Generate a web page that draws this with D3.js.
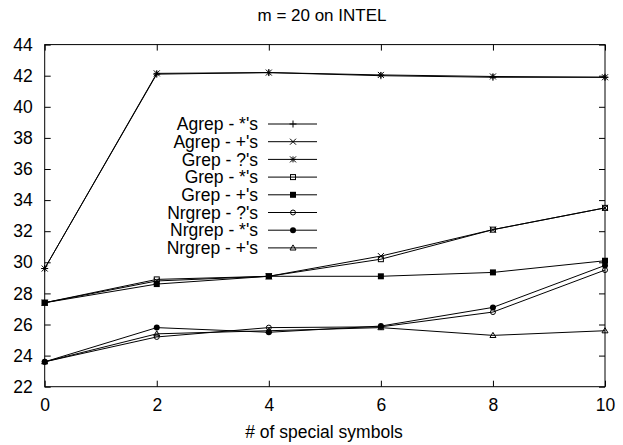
<!DOCTYPE html>
<html>
<head>
<meta charset="utf-8">
<script src="https://cdn.jsdelivr.net/npm/d3@7"></script>
<style>
body { margin: 0; background: #fff; }
text { font-family: "Liberation Sans", Arial, sans-serif; fill: #000; }
</style>
</head>
<body>
<div id="chart"></div>
<script>
// data
var xValues = [0, 2, 4, 6, 8, 10];
var seriesNames = ["Agrep - *'s", "Agrep - +'s", "Grep - ?'s", "Grep - *'s", "Grep - +'s",
    "Nrgrep - ?'s", "Nrgrep - *'s", "Nrgrep - +'s"];
var agrepStar = [29.6, 42.1, 42.2, 42.0, 41.9, 41.9];
var agrepPlus = [27.4, 28.8, 29.1, 30.4, 32.1, 33.5];
var grepQuest = [29.6, 42.15, 42.2, 42.05, 41.95, 41.9];
var grepStar = [27.4, 28.9, 29.1, 30.2, 32.1, 33.5];
var grepPlus = [27.4, 28.6, 29.1, 29.1, 29.35, 30.1];
var nrQuest = [23.6, 25.2, 25.8, 25.85, 26.8, 29.5];
var nrStar = [23.6, 25.8, 25.5, 25.9, 27.1, 29.8];
var nrPlus = [23.6, 25.4, 25.6, 25.8, 25.3, 25.6];
var yTicks = [22, 24, 26, 28, 30, 32, 34, 36, 38, 40, 42, 44];
var xTicks = [0, 2, 4, 6, 8, 10];
var markers = ["plus", "cross", "star", "boxOpen", "boxFilled", "circleOpen", "circleFilled", "triangle"];

var seriesValues = [agrepStar, agrepPlus, grepQuest, grepStar, grepPlus, nrQuest, nrStar, nrPlus];

var svgWidth = 623, svgHeight = 445;
var margin = {top: 44.6, right: 18, bottom: 58.3, left: 44.7};
var width = svgWidth - margin.left - margin.right;
var height = svgHeight - margin.top - margin.bottom;
var fontSize = "17.5px";

var svg = d3.select("#chart").append("svg")
    .attr("width", svgWidth)
    .attr("height", svgHeight);

var chartGroup = svg.append("g")
    .attr("transform", `translate(${margin.left}, ${margin.top})`);

var xScale = d3.scaleLinear().domain([0, 10]).range([0, width]);
var yScale = d3.scaleLinear().domain([22, 44]).range([height, 0]);

// frame
chartGroup.append("rect")
    .attr("x", 0).attr("y", 0)
    .attr("width", width).attr("height", height)
    .attr("fill", "none").attr("stroke", "#000").attr("stroke-width", 1);

// axes with inward ticks, mirrored like gnuplot
var tickLen = 6;
var bottomAxis = d3.axisBottom(xScale).tickValues(xTicks).tickSize(-tickLen).tickPadding(12);
var topAxis = d3.axisTop(xScale).tickValues(xTicks).tickSize(-tickLen).tickFormat("");
var leftAxis = d3.axisLeft(yScale).tickValues(yTicks).tickSize(-tickLen).tickPadding(12);
var rightAxis = d3.axisRight(yScale).tickValues(yTicks).tickSize(-tickLen).tickFormat("");

function styleAxis(g) {
    g.select(".domain").remove();
    g.selectAll("line").attr("stroke", "#000");
    g.selectAll("text").style("font-size", fontSize).attr("fill", "#000");
}

chartGroup.append("g").attr("transform", `translate(0, ${height})`).call(bottomAxis).call(styleAxis);
chartGroup.append("g").call(topAxis).call(styleAxis);
chartGroup.append("g").call(leftAxis).call(styleAxis);
chartGroup.append("g").attr("transform", `translate(${width}, 0)`).call(rightAxis).call(styleAxis);

// marker drawing
function drawMarker(g, type, cx, cy) {
    var s = 3;
    if (type === "plus") {
        g.append("path").attr("d", `M${cx - s - 0.5},${cy}H${cx + s + 0.5}M${cx},${cy - s - 0.5}V${cy + s + 0.5}`)
            .attr("stroke", "#000").attr("fill", "none");
    } else if (type === "cross") {
        g.append("path").attr("d", `M${cx - s},${cy - s}L${cx + s},${cy + s}M${cx - s},${cy + s}L${cx + s},${cy - s}`)
            .attr("stroke", "#000").attr("fill", "none");
    } else if (type === "star") {
        g.append("path").attr("d", `M${cx - s},${cy}H${cx + s}M${cx},${cy - s}V${cy + s}M${cx - s},${cy - s}L${cx + s},${cy + s}M${cx - s},${cy + s}L${cx + s},${cy - s}`)
            .attr("stroke", "#000").attr("fill", "none");
    } else if (type === "boxOpen") {
        g.append("rect").attr("x", cx - s + 0.5).attr("y", cy - s + 0.5).attr("width", 2 * s - 1).attr("height", 2 * s - 1)
            .attr("stroke", "#000").attr("fill", "none");
    } else if (type === "boxFilled") {
        g.append("rect").attr("x", cx - s).attr("y", cy - s).attr("width", 2 * s).attr("height", 2 * s)
            .attr("fill", "#000");
    } else if (type === "circleOpen") {
        g.append("circle").attr("cx", cx).attr("cy", cy).attr("r", s - 0.5)
            .attr("stroke", "#000").attr("fill", "none");
    } else if (type === "circleFilled") {
        g.append("circle").attr("cx", cx).attr("cy", cy).attr("r", s)
            .attr("fill", "#000");
    } else if (type === "triangle") {
        g.append("path").attr("d", `M${cx},${cy - s}L${cx + s},${cy + s * 0.7}L${cx - s},${cy + s * 0.7}Z`)
            .attr("stroke", "#000").attr("fill", "none");
    }
}

var line = d3.line()
    .x((d, i) => xScale(xValues[i]))
    .y(d => yScale(d));

seriesValues.forEach(function(vals, k) {
    var g = chartGroup.append("g");
    g.append("path").datum(vals)
        .attr("d", line)
        .attr("fill", "none")
        .attr("stroke", "#000")
        .attr("stroke-width", 1);
    vals.forEach(function(v, i) {
        drawMarker(g, markers[k], xScale(xValues[i]), yScale(v));
    });
});

// legend
var legendGroup = svg.append("g");
seriesNames.forEach(function(name, k) {
    var y = 124 + k * 17.7;
    legendGroup.append("text")
        .attr("x", 258).attr("y", y)
        .attr("dy", "0.35em")
        .attr("text-anchor", "end")
        .style("font-size", fontSize)
        .text(name);
    legendGroup.append("line")
        .attr("x1", 268).attr("x2", 317)
        .attr("y1", y).attr("y2", y)
        .attr("stroke", "#000");
    drawMarker(legendGroup, markers[k], 293, y);
});

// title and axis label
svg.append("text")
    .attr("x", 322).attr("y", 21)
    .attr("text-anchor", "middle")
    .style("font-size", "17px")
    .text("m = 20 on INTEL");

svg.append("text")
    .attr("x", 324).attr("y", 438)
    .attr("text-anchor", "middle")
    .style("font-size", fontSize)
    .text("# of special symbols");
</script>
</body>
</html>
